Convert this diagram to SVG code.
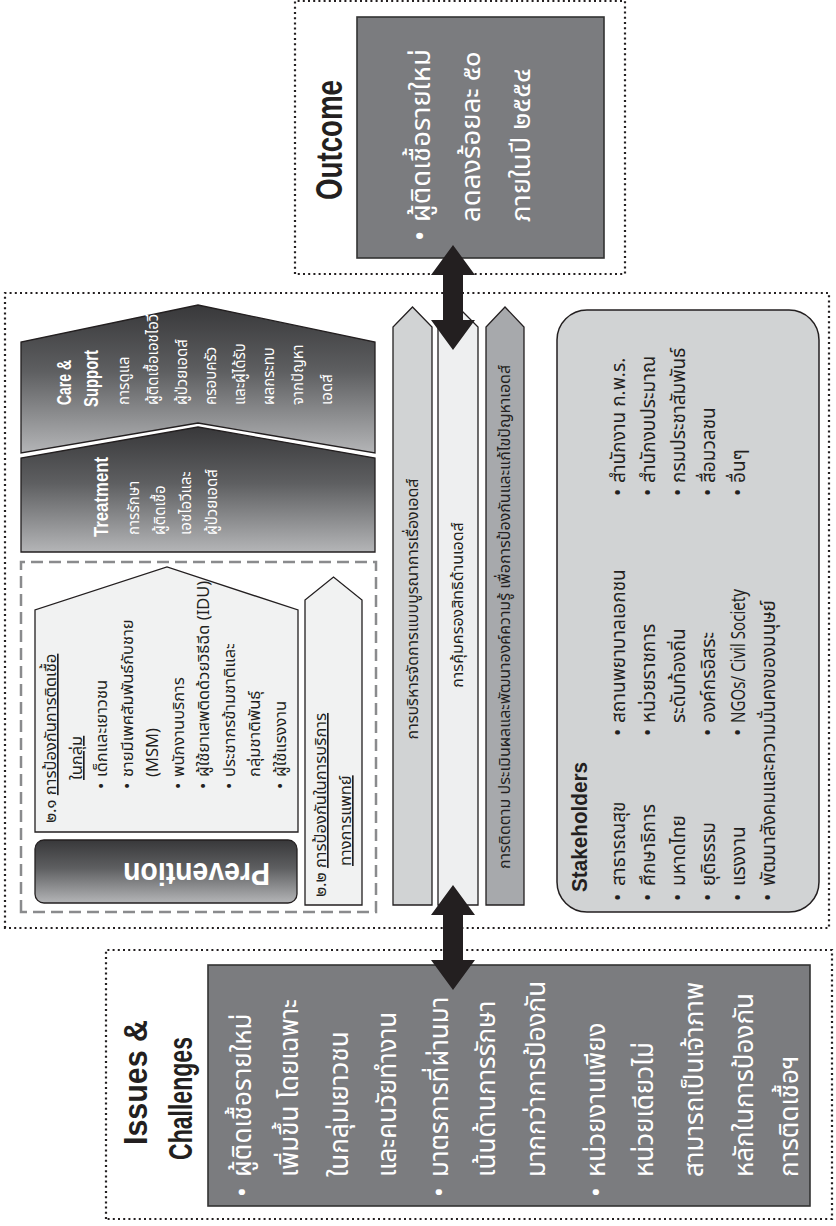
<svg xmlns="http://www.w3.org/2000/svg" width="836" height="1226" viewBox="0 0 836 1226">
<defs>
<style>
.dot{fill:none;stroke:#231f20;stroke-width:2.2;stroke-dasharray:2 3.2}
.gbox{fill:#7b7c7f;stroke:#333;stroke-width:1.6}
.th{font-family:"Noto Sans Thai","Noto Sans","DejaVu Sans",sans-serif}
.big{fill:#fff;font-size:26px}
.big2{fill:#fff;font-size:27.5px}
.sm{fill:#231f20;font-size:16.5px}
.wt{fill:#fff;font-size:15px}
.ar{fill:#231f20;font-size:16px}
.sk{fill:#231f20;font-size:19px}
.ttl{font-family:"Liberation Sans",Arial,sans-serif;font-weight:bold;fill:#231f20}
.ttw{font-family:"Liberation Sans",Arial,sans-serif;font-weight:bold;fill:#fff}
.pent{fill:#f1f2f2;stroke:#231f20;stroke-width:1.3}
.grd{fill:url(#g1);stroke:#231f20;stroke-width:1.3}
.conn{fill:#231f20}
</style>
<linearGradient id="g1" x1="1" y1="0" x2="0" y2="0">
<stop offset="0" stop-color="#38383a"/>
<stop offset="0.45" stop-color="#5e5f61"/>
<stop offset="1" stop-color="#b4b5b7"/>
</linearGradient>
</defs>
<rect width="836" height="1226" fill="#fff"/>
<g transform="translate(0,1226) rotate(-90)">

<g id="issues">
<rect class="dot" x="7" y="106" width="269" height="726"/>
<text class="ttl" x="81" y="147" font-size="34" textLength="125" lengthAdjust="spacingAndGlyphs">Issues &amp;</text>
<text class="ttl" x="66" y="192" font-size="34" textLength="123" lengthAdjust="spacingAndGlyphs">Challenges</text>
<rect class="gbox" x="20" y="208" width="241" height="602"/>
<g class="th big">
<text x="29" y="251">•</text><text x="49" y="251">ผู้ติดเชื้อรายใหม่</text>
<text x="49" y="298">เพิ่มขึ้น โดยเฉพาะ</text>
<text x="49" y="348">ในกลุ่มเยาวชน</text>
<text x="49" y="396">และคนวัยทำงาน</text>
<text x="29" y="448">•</text><text x="49" y="448">มาตรการที่ผ่านมา</text>
<text x="49" y="495">เน้นด้านการรักษา</text>
<text x="49" y="545">มากกว่าการป้องกัน</text>
<text x="29" y="605">•</text><text x="49" y="605">หน่วยงานเพียง</text>
<text x="49" y="653">หน่วยเดียวไม่</text>
<text x="49" y="703">สามารถเป็นเจ้าภาพ</text>
<text x="49" y="753">หลักในการป้องกัน</text>
<text x="49" y="798">การติดเชื้อฯ</text>
</g>
</g>

<g id="main-frame">
<rect class="dot" x="298" y="5" width="635" height="824"/>
</g>

<g id="prevention">
<rect x="314" y="21" width="350" height="355" fill="none" stroke="#8a8b8d" stroke-width="2.5" stroke-dasharray="12 6"/>
<rect x="323" y="35" width="63" height="262" rx="9" class="grd"/>
<text class="ttw" transform="translate(363,196.5) rotate(-90)" text-anchor="middle" font-size="31" textLength="147" lengthAdjust="spacingAndGlyphs">Prevention</text>
</g>

<g id="prevention-2-1">
<polygon class="pent" points="394,35 616,35 659,167 616,298 394,298"/>
<g class="th sm">
<text x="403" y="56">๒.๑ <tspan text-decoration="underline">การป้องกันการติดเชื้อ</tspan></text>
<text x="446" y="82" text-decoration="underline">ในกลุ่ม</text>
<text x="437" y="107">•</text><text x="449" y="107">เด็กและเยาวชน</text>
<text x="437" y="133">•</text><text x="449" y="133">ชายมีเพศสัมพันธ์กับชาย</text>
<text x="449" y="158">(MSM)</text>
<text x="437" y="184">•</text><text x="449" y="184">พนักงานบริการ</text>
<text x="437" y="209">•</text><text x="449" y="209">ผู้ใช้ยาเสพติดด้วยวิธีฉีด (IDU)</text>
<text x="437" y="235">•</text><text x="449" y="235">ประชากรข้ามชาติและ</text>
<text x="449" y="260">กลุ่มชาติพันธุ์</text>
<text x="437" y="286">•</text><text x="449" y="286">ผู้ใช้แรงงาน</text>
</g>
</g>

<g id="prevention-2-2">
<polygon class="pent" points="321,305 626,305 649,333.5 626,362 321,362"/>
<g class="th sm">
<text x="329" y="326">๒.๒ <tspan text-decoration="underline">การป้องกันในการบริการ</tspan></text>
<text x="360" y="351" text-decoration="underline">ทางการแพทย์</text>
</g>
</g>

<g id="treatment">
<polygon class="grd" points="674,21 768,21 799,198 768,375 674,375"/>
<text class="ttw" x="689" y="108" font-size="20" textLength="80" lengthAdjust="spacingAndGlyphs">Treatment</text>
<g class="th wt">
<text x="691" y="139">การรักษา</text>
<text x="691" y="165">ผู้ติดเชื้อ</text>
<text x="691" y="191">เอชไอวีและ</text>
<text x="691" y="217">ผู้ป่วยเอดส์</text>
</g>
</g>

<g id="care-support">
<polygon class="grd" points="773,21 884,21 921,198 884,375 773,375 803,198"/>
<text class="ttw" x="821" y="71" font-size="20" textLength="45" lengthAdjust="spacingAndGlyphs">Care &amp;</text>
<text class="ttw" x="819" y="98" font-size="20" textLength="57" lengthAdjust="spacingAndGlyphs">Support</text>
<g class="th wt">
<text x="821" y="129">การดูแล</text>
<text x="821" y="158">ผู้ติดเชื้อเอชไอวี</text>
<text x="821" y="187">ผู้ป่วยเอดส์</text>
<text x="821" y="216">ครอบครัว</text>
<text x="821" y="245">และผู้ได้รับ</text>
<text x="821" y="274">ผลกระทบ</text>
<text x="821" y="303">จากปัญหา</text>
<text x="821" y="332">เอดส์</text>
</g>
</g>

<g id="arrow-integrated">
<polygon points="321,393 899,393 919,412.5 899,432 321,432" fill="#d1d3d4" stroke="#231f20" stroke-width="1.3"/>
<text class="th ar" x="617" y="418" text-anchor="middle">การบริหารจัดการแบบบูรณาการเรื่องเอดส์</text>
</g>
<g id="arrow-rights">
<polygon points="321,438 899,438 919,458 899,478 321,478" fill="#eeeff0" stroke="#231f20" stroke-width="1.3"/>
<text class="th ar" x="621" y="463" text-anchor="middle">การคุ้มครองสิทธิด้านเอดส์</text>
</g>
<g id="arrow-monitoring">
<polygon points="321,486 899,486 919,505 899,524 321,524" fill="#a7a9ac" stroke="#231f20" stroke-width="1.3"/>
<text class="th ar" x="609" y="510" text-anchor="middle">การติดตาม ประเมินผลและพัฒนาองค์ความรู้ เพื่อการป้องกันและแก้ไขปัญหาเอดส์</text>
</g>

<g id="stakeholders">
<rect x="314" y="557" width="602" height="262" rx="30" fill="#d1d3d4" stroke="#231f20" stroke-width="1.5"/>
<text class="ttl" x="334" y="587" font-size="22" textLength="130" lengthAdjust="spacingAndGlyphs">Stakeholders</text>
<g class="th sk">
<text x="325" y="625">•</text><text x="340" y="625">สาธารณสุข</text>
<text x="325" y="655">•</text><text x="340" y="655">ศึกษาธิการ</text>
<text x="325" y="685">•</text><text x="340" y="685">มหาดไทย</text>
<text x="325" y="715">•</text><text x="340" y="715">ยุติธรรม</text>
<text x="325" y="745">•</text><text x="340" y="745">แรงงาน</text>
<text x="325" y="775">•</text><text x="340" y="775">พัฒนาสังคมและความมั่นคงของมนุษย์</text>
<text x="490" y="625">•</text><text x="503" y="625">สถานพยาบาลเอกชน</text>
<text x="490" y="655">•</text><text x="503" y="655">หน่วยราชการ</text>
<text x="503" y="685">ระดับท้องถิ่น</text>
<text x="490" y="715">•</text><text x="503" y="715">องค์กรอิสระ</text>
<text x="490" y="745">•</text><text x="503" y="745" font-size="19" textLength="134" lengthAdjust="spacingAndGlyphs">NGOs/ Civil Society</text>
<text x="730" y="625">•</text><text x="743" y="625">สำนักงาน ก.พ.ร.</text>
<text x="730" y="655">•</text><text x="743" y="655">สำนักงบประมาณ</text>
<text x="730" y="685">•</text><text x="743" y="685">กรมประชาสัมพันธ์</text>
<text x="730" y="715">•</text><text x="743" y="715">สื่อมวลชน</text>
<text x="730" y="745">•</text><text x="743" y="745">อื่นๆ</text>
</g>
</g>

<g id="outcome">
<rect class="dot" x="952" y="295" width="273" height="330"/>
<text class="ttl" x="1026" y="342" font-size="36" textLength="120" lengthAdjust="spacingAndGlyphs">Outcome</text>
<rect class="gbox" x="968" y="357" width="241" height="247"/>
<g class="th big2">
<text x="985" y="430">•</text><text x="1004" y="430">ผู้ติดเชื้อรายใหม่</text>
<text x="1004" y="480">ลดลงร้อยละ ๕๐</text>
<text x="1004" y="530">ภายในปี ๒๕๕๔</text>
</g>
</g>

<g id="connectors">
<path class="conn" d="M876,453 L906,431 L906,443 L951,443 L951,431 L981,453 L951,475 L951,463 L906,463 L906,475 Z"/>
<path class="conn" d="M236,453 L266,431 L266,443 L311,443 L311,431 L341,453 L311,475 L311,463 L266,463 L266,475 Z"/>
</g>

</g>
</svg>
